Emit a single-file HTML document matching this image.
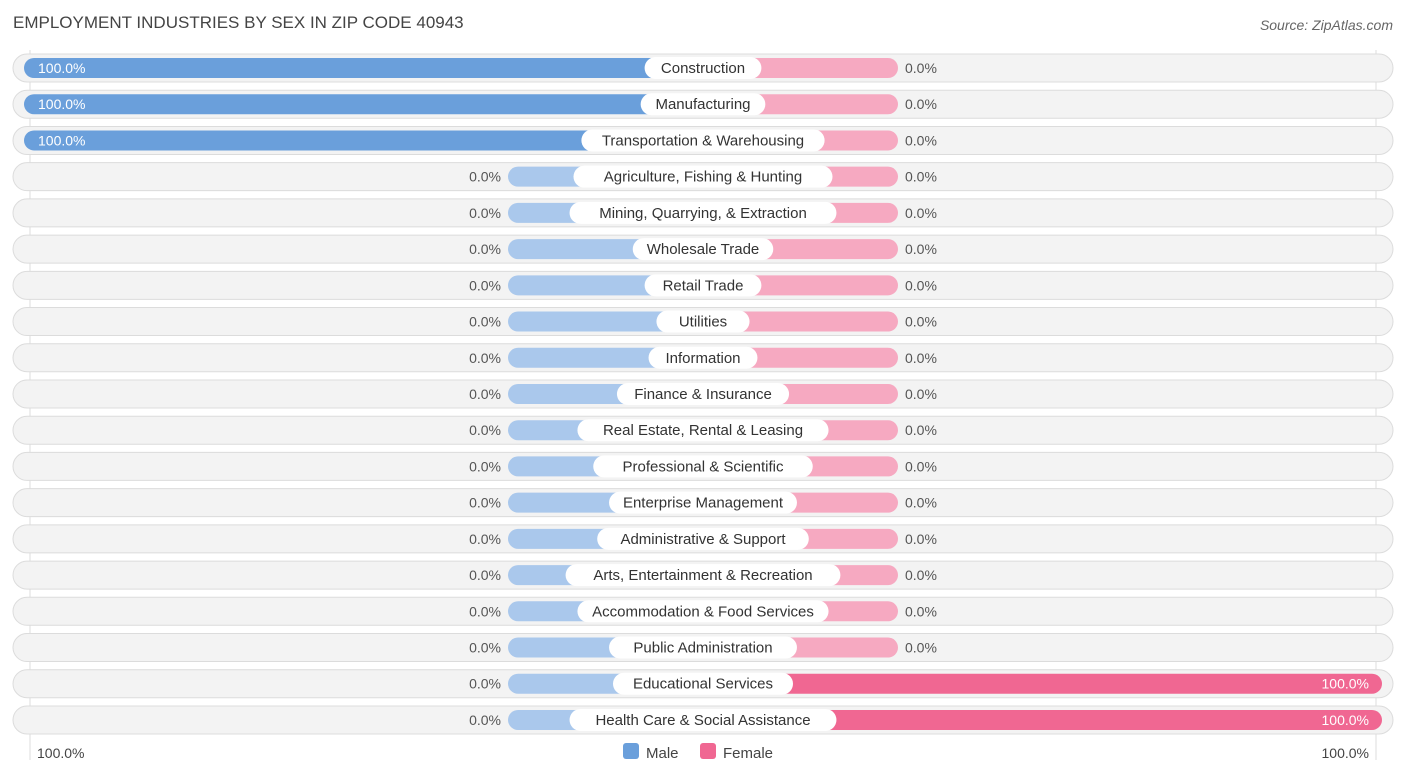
<!DOCTYPE html>
<html><head><meta charset="utf-8"><style>
body{margin:0;background:#fff;font-family:"Liberation Sans",sans-serif;}
svg text{font-family:"Liberation Sans",sans-serif;}
</style></head><body>
<svg id="c" width="1406" height="776" xmlns="http://www.w3.org/2000/svg">
<text x="13" y="28" font-size="17" fill="#444">EMPLOYMENT INDUSTRIES BY SEX IN ZIP CODE 40943</text>
<text x="1393" y="30" font-size="14" fill="#666" font-style="italic" text-anchor="end">Source: ZipAtlas.com</text>
<line x1="30" y1="50" x2="30" y2="760" stroke="#ddd"/>
<line x1="1376" y1="50" x2="1376" y2="760" stroke="#ddd"/>
<g id="rows"></g>
<text x="37" y="758" font-size="14" fill="#444">100.0%</text>
<text x="1369" y="758" font-size="14" fill="#444" text-anchor="end">100.0%</text>
<g>
<rect x="623" y="743" width="16" height="16" rx="3" fill="#6a9fdb"/>
<text x="646" y="758" font-size="15" fill="#444">Male</text>
<rect x="700" y="743" width="16" height="16" rx="3" fill="#f06792"/>
<text x="723" y="758" font-size="15" fill="#444">Female</text>
</g>
</svg>
<script>
const categories=["Construction","Manufacturing","Transportation & Warehousing","Agriculture, Fishing & Hunting","Mining, Quarrying, & Extraction","Wholesale Trade","Retail Trade","Utilities","Information","Finance & Insurance","Real Estate, Rental & Leasing","Professional & Scientific","Enterprise Management","Administrative & Support","Arts, Entertainment & Recreation","Accommodation & Food Services","Public Administration","Educational Services","Health Care & Social Assistance"];
const maleValues=[100,100,100,0,0,0,0,0,0,0,0,0,0,0,0,0,0,0,0];
const femaleValues=[0,0,0,0,0,0,0,0,0,0,0,0,0,0,0,0,0,100,100];
const NS="http://www.w3.org/2000/svg";
const g=document.getElementById('rows');
const cx=703, half=679, stub=195, y0=68, step=36.22;
const sx=v=>v/100*half;
function mk(t,a){const e=document.createElementNS(NS,t);for(const k in a)e.setAttribute(k,a[k]);return e;}
categories.forEach((c,i)=>{
  const y=y0+i*step;
  const row=mk('g',{});
  
  
  const bg=mk('rect',{x:13,y:y-14,width:1380,height:28,rx:14,fill:'#f3f3f3',stroke:'#dcdcdc'});
  
  
  row.appendChild(bg);
  const m=maleValues[i], f=femaleValues[i];
  const mw=Math.max(sx(m),stub), fw=Math.max(sx(f),stub);
  const mb=mk('rect',{x:cx-mw,y:y-10,width:mw,height:20,rx:10,fill:m>0?'#6a9fdb':'#aac8ec'});
  
  
  row.appendChild(mb);
  const fb=mk('rect',{x:cx,y:y-10,width:fw,height:20,rx:10,fill:f>0?'#f06792':'#f6a9c1'});
  
  
  row.appendChild(fb);
  const lbl=mk('text',{x:cx,y:y+5,'font-size':15,fill:'#333','text-anchor':'middle'});
  lbl.textContent=c;
  
  
  row.appendChild(lbl);
  const w=c.length*7.9+22;
  const pill=mk('rect',{x:cx-w/2,y:y-11,width:w,height:22,rx:11,fill:'#fff'});
  
  
  row.insertBefore(pill,lbl);
  const mv=mk('text',{'font-size':14,y:y+5});
  mv.textContent=m.toFixed(1)+'%';
  if(m>0&&mw>120){mv.setAttribute('x',cx-mw+14);mv.setAttribute('fill','#fff');}
  else{mv.setAttribute('x',cx-mw-7);mv.setAttribute('text-anchor','end');mv.setAttribute('fill','#555');}
  
  
  row.appendChild(mv);
  const fv=mk('text',{'font-size':14,y:y+5});
  fv.textContent=f.toFixed(1)+'%';
  if(f>0&&fw>120){fv.setAttribute('x',cx+fw-13);fv.setAttribute('text-anchor','end');fv.setAttribute('fill','#fff');}
  else{fv.setAttribute('x',cx+fw+7);fv.setAttribute('fill','#555');}
  
  
  row.appendChild(fv);
  g.appendChild(row);
});
</script>
</body></html>
